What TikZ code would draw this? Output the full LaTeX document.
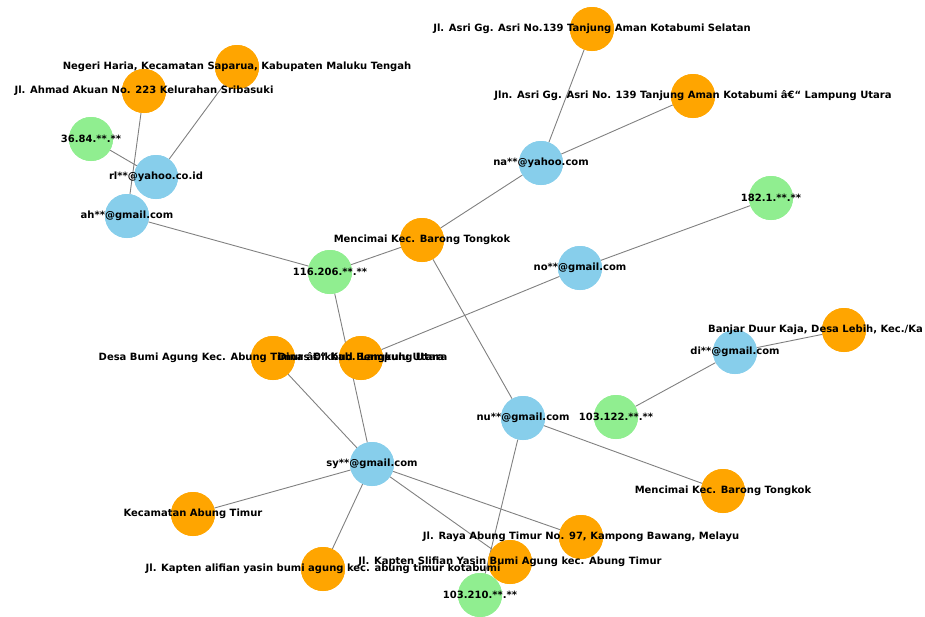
\documentclass[tikz,border=0pt]{standalone}
\usepackage{fontspec}
\setmainfont{DejaVu Sans}
\usepackage{xcolor}
\usepackage{tikz}
\definecolor{mailblue}{HTML}{87CEEB}
\definecolor{ipgreen}{HTML}{90EE90}
\definecolor{addrorange}{HTML}{FFA500}
\newcommand{\moji}{â€\char"201C\relax}

\begin{document}
\begin{tikzpicture}[x=1pt, y=-1pt,
  email/.style={circle, fill=mailblue, minimum size=44pt, inner sep=0pt},
  ipaddr/.style={circle, fill=ipgreen, minimum size=44pt, inner sep=0pt},
  addr/.style={circle, fill=addrorange, minimum size=44pt, inner sep=0pt},
  lbl/.style={font=\fontsize{10}{12}\selectfont\bfseries, inner sep=0pt, text=black},
  edge/.style={draw=gray, line width=0.9pt}]
\useasboundingbox (0,0) rectangle (925,616);
% nodes
\node[addr] (haria) at (237,67) {};
\node[addr] (akuan) at (144,91) {};
\node[ipaddr] (ip3684) at (91,139) {};
\node[email] (rl) at (156,177) {};
\node[email] (ah) at (127,216) {};
\node[ipaddr] (ip116) at (330,272) {};
\node[addr] (barong1) at (422,240) {};
\node[addr] (desa) at (273,358) {};
\node[addr] (dinas) at (361,358) {};
\node[email] (sy) at (372,464) {};
\node[addr] (kecab) at (193,514) {};
\node[addr] (alifian) at (323,569) {};
\node[addr] (asri1) at (592,29) {};
\node[addr] (asri2) at (693,96) {};
\node[email] (na) at (541,163) {};
\node[ipaddr] (ip182) at (771,198) {};
\node[email] (no) at (580,268) {};
\node[email] (di) at (735,352) {};
\node[addr] (banjar) at (844,330) {};
\node[email] (nu) at (523,418) {};
\node[ipaddr] (ip103a) at (616,417) {};
\node[addr] (barong2) at (723,491) {};
\node[addr] (raya) at (581,537) {};
\node[addr] (slifian) at (510,562) {};
\node[ipaddr] (ip103b) at (480,595) {};
% edges
\draw[edge] (haria) -- (rl);
\draw[edge] (akuan) -- (ah);
\draw[edge] (ip3684) -- (rl);
\draw[edge] (ah) -- (ip116);
\draw[edge] (ip116) -- (barong1);
\draw[edge] (barong1) -- (na);
\draw[edge] (na) -- (asri1);
\draw[edge] (na) -- (asri2);
\draw[edge] (barong1) -- (nu);
\draw[edge] (ip116) -- (sy);
\draw[edge] (dinas) -- (no);
\draw[edge] (no) -- (ip182);
\draw[edge] (desa) -- (sy);
\draw[edge] (sy) -- (kecab);
\draw[edge] (sy) -- (alifian);
\draw[edge] (sy) -- (raya);
\draw[edge] (sy) -- (slifian);
\draw[edge] (nu) -- (ip103b);
\draw[edge] (nu) -- (barong2);
\draw[edge] (di) -- (ip103a);
\draw[edge] (di) -- (banjar);
% circles again on top of the edges
\foreach \n/\s in {haria/addr, akuan/addr, ip3684/ipaddr, rl/email, ah/email,
  ip116/ipaddr, barong1/addr, desa/addr, dinas/addr, sy/email, kecab/addr,
  alifian/addr, asri1/addr, asri2/addr, na/email, ip182/ipaddr, no/email,
  di/email, banjar/addr, nu/email, ip103a/ipaddr, barong2/addr, raya/addr,
  slifian/addr, ip103b/ipaddr}
  \node[\s] at (\n) {};
% labels
\node[lbl] at (haria) {Negeri Haria, Kecamatan Saparua, Kabupaten Maluku Tengah};
\node[lbl] at (akuan) {Jl. Ahmad Akuan No. 223 Kelurahan Sribasuki};
\node[lbl] at (ip3684) {36.84.**.**};
\node[lbl] at (rl) {rl**@yahoo.co.id};
\node[lbl] at (ah) {ah**@gmail.com};
\node[lbl] at (ip116) {116.206.**.**};
\node[lbl] at (barong1) {Mencimai Kec. Barong Tongkok};
\node[lbl] at (desa) {Desa Bumi Agung Kec. Abung Timur \moji{} Kab. Lampung Utara};
\node[lbl] at (dinas) {Dinas Dikbud Bengkulu Utara};
\node[lbl] at (sy) {sy**@gmail.com};
\node[lbl] at (kecab) {Kecamatan Abung Timur};
\node[lbl] at (alifian) {Jl. Kapten alifian yasin bumi agung kec. abung timur kotabumi};
\node[lbl] at (asri1) {Jl. Asri Gg. Asri No.139 Tanjung Aman Kotabumi Selatan};
\node[lbl] at (asri2) {Jln. Asri Gg. Asri No. 139 Tanjung Aman Kotabumi \moji{} Lampung Utara};
\node[lbl] at (na) {na**@yahoo.com};
\node[lbl] at (ip182) {182.1.**.**};
\node[lbl] at (no) {no**@gmail.com};
\node[lbl] at (di) {di**@gmail.com};
\node[lbl, anchor=west] at (708,330) {Banjar Duur Kaja, Desa Lebih, Kec./Ka};
\node[lbl] at (nu) {nu**@gmail.com};
\node[lbl] at (ip103a) {103.122.**.**};
\node[lbl] at (barong2) {Mencimai Kec. Barong Tongkok};
\node[lbl] at (raya) {Jl. Raya Abung Timur No. 97, Kampong Bawang, Melayu};
\node[lbl] at (slifian) {Jl. Kapten Slifian Yasin Bumi Agung kec. Abung Timur};
\node[lbl] at (ip103b) {103.210.**.**};
\end{tikzpicture}
\end{document}
